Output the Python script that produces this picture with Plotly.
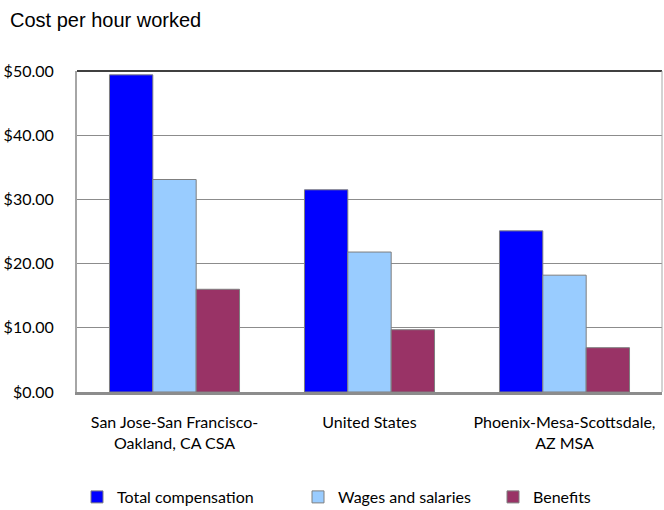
import plotly.graph_objects as go

categories = ["San Jose-San Francisco-<br>Oakland, CA CSA", "United States", "Phoenix-Mesa-Scottsdale,<br>AZ MSA"]
total_comp = [49.4, 31.5, 25.1]
wages = [33.1, 21.8, 18.2]
benefits = [16.0, 9.7, 6.9]
series_names = ["Total compensation", "Wages and salaries", "Benefits"]
colors = ["#0000FF", "#99CCFF", "#993366"]
tick_vals = [0, 10, 20, 30, 40, 50]
tick_text = ["$0.00", "$10.00", "$20.00", "$30.00", "$40.00", "$50.00"]

legend_ids = ["legend", "legend2", "legend3"]
legend_x = [77, 298, 493]

fig = go.Figure()
for name, vals, col, lg in zip(series_names, [total_comp, wages, benefits], colors, legend_ids):
    fig.add_trace(go.Bar(x=categories, y=vals, name=name, legend=lg,
                         marker=dict(color=col, line=dict(color="#7f7f7f", width=1))))

tick_font = dict(family="Lato, Carlito, sans-serif", size=16, color="#000000")
leg_font = dict(family="Lato, Carlito, sans-serif", size=16, color="#000000")

def leg(xpx):
    return dict(orientation="h", x=xpx/664, xanchor="left", xref="container",
                y=1-497/510, yanchor="middle", yref="container",
                font=leg_font, itemwidth=30, bgcolor="rgba(0,0,0,0)")

fig.update_layout(
    width=664, height=510,
    margin=dict(l=77, r=2, t=71, b=118, autoexpand=False),
    paper_bgcolor="white", plot_bgcolor="white",
    barmode="group", bargap=0.333, bargroupgap=0,
    title=dict(text="Cost per hour worked", x=10/664, xanchor="left", xref="container",
               y=1-20/510, yanchor="middle", yref="container", pad=dict(l=0, t=0, b=0, r=0),
               font=dict(family="Liberation Sans, Arial", size=20, color="#000000")),
    xaxis=dict(showgrid=False, showline=True, linecolor="#8c8c8c", linewidth=3,
               ticks="", tickfont=tick_font, mirror=False, ticklabelstandoff=14),
    yaxis=dict(range=[0, 50], tickvals=tick_vals, ticktext=tick_text, showgrid=True,
               gridcolor="#8c8c8c", gridwidth=1, showline=True, linecolor="#a6a6a6", linewidth=2,
               ticks="", ticklen=0, tickfont=tick_font, zeroline=False, ticklabelstandoff=18),
    legend=leg(legend_x[0]),
    legend2=leg(legend_x[1]),
    legend3=leg(legend_x[2]),
    showlegend=True,
)
fig.add_shape(type="line", xref="paper", yref="paper", x0=0, x1=1, y0=1, y1=1,
              line=dict(color="#404040", width=2))
fig.add_shape(type="line", xref="paper", yref="paper", x0=1, x1=1, y0=0, y1=1,
              line=dict(color="#a6a6a6", width=1))
fig.write_html("out.html", config={"displayModeBar": False},
               post_script="document.body.style.margin='0';")
